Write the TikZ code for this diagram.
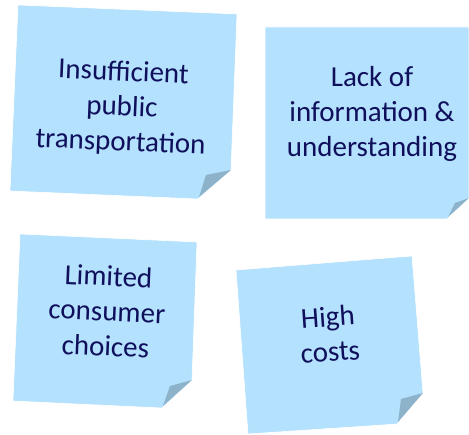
\documentclass[tikz,border=0pt]{standalone}
\usepackage{fontspec}
\setmainfont{Carlito}
\definecolor{notefill}{HTML}{B4E1FD}
\definecolor{foldfill}{HTML}{8DB3CB}
\definecolor{notetext}{HTML}{0F0F5C}
\begin{document}
\begin{tikzpicture}[x=1pt,y=-1pt,
  note/.style={fill=notefill,draw=white,line width=0.6pt,line join=round},
  fold/.style={fill=foldfill,draw=none},
  label/.style={text=notetext,align=center,font=\fontsize{29}{35}\selectfont,inner sep=0pt}]
\useasboundingbox (0,0) rectangle (469,435);
% note 1
\draw[note] (18,5) -- (237,14) -- (231,170) -- (198,199) -- (10,191) -- cycle;
\fill[fold] (231,170) -- (199,197) -- (206,175) -- cycle;
\node[label,rotate=-2.4] (n1) at (122,108) {Insufficient\\public\\transportation};
% note 2
\draw[note] (265,27) -- (469,27) -- (469,198) -- (447,219) -- (265,219) -- cycle;
\fill[fold] (469,198) -- (448,217) -- (455,203) -- cycle;
\node[label] (n2) at (372,114) {Lack of\\information \&\\understanding};
% note 3
\draw[note] (20,234) -- (197,242) -- (192,380) -- (162,408) -- (13,401) -- cycle;
\fill[fold] (192,380) -- (163,406) -- (170,386) -- cycle;
\node[label,rotate=-2.5] (n3) at (107,311) {Limited\\consumer\\choices};
% note 4
\draw[note] (236,270) -- (412,256) -- (423,393) -- (397,424) -- (248,434) -- cycle;
\fill[fold] (423,393) -- (398,422) -- (401,399) -- cycle;
\node[label,rotate=4] (n4) at (329,334) {High\\costs};
\end{tikzpicture}
\end{document}
